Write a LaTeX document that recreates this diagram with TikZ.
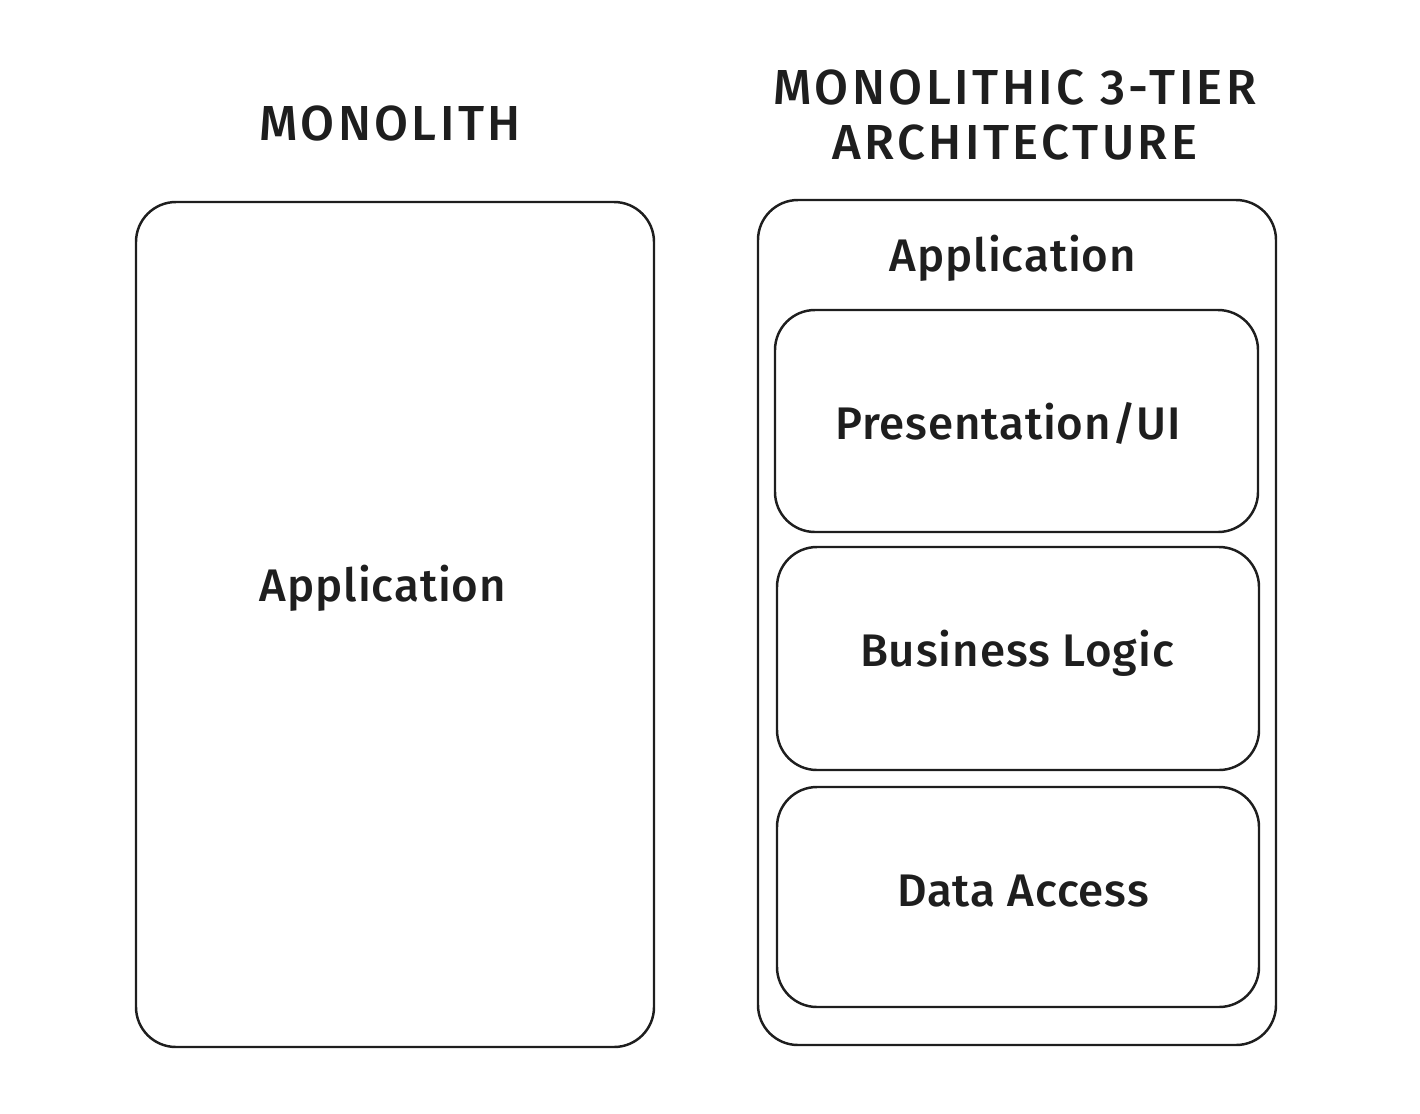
\documentclass[tikz,border=0pt]{standalone}
\usepackage{fontspec}
\setmainfont{Fira Sans}[UprightFont=* Medium]
\definecolor{ink}{HTML}{1E1E1E}
\tikzset{
  box/.style={draw=ink, line width=1.4pt, rounded corners=0.8cm},
  title/.style={text=ink, font=\fontsize{28}{31}\selectfont\addfontfeature{LetterSpace=7}},
  label/.style={text=ink, font=\fontsize{26}{30}\selectfont\addfontfeature{LetterSpace=2}}
}
\begin{document}
\begin{tikzpicture}[x=0.02cm, y=-0.02cm]
    \useasboundingbox (0,0) rectangle (1420,1113);
    % left: the monolith
    \node[title] (monotitle) at (390,123) {MONOLITH};
    \draw[box] (136,202) rectangle (654,1047);
    \node[label] (monoapp) at (383,588) {Application};
    % right: three tiers inside one application
    \node[title, align=center] (tiertitle) at (1015,115) {MONOLITHIC 3-TIER\\ARCHITECTURE};
    \draw[box] (758,200) rectangle (1276,1045);
    \node[label] (tierapp) at (1013,258) {Application};
    \draw[box] (775,310) rectangle (1258,532);
    \node[label] (ui) at (1008,423) {Presentation/UI};
    \draw[box] (777,547) rectangle (1259,770);
    \node[label] (logic) at (1017,653) {Business Logic};
    \draw[box] (777,787) rectangle (1259,1007);
    \node[label] (data) at (1023,891) {Data Access};
\end{tikzpicture}
\end{document}
